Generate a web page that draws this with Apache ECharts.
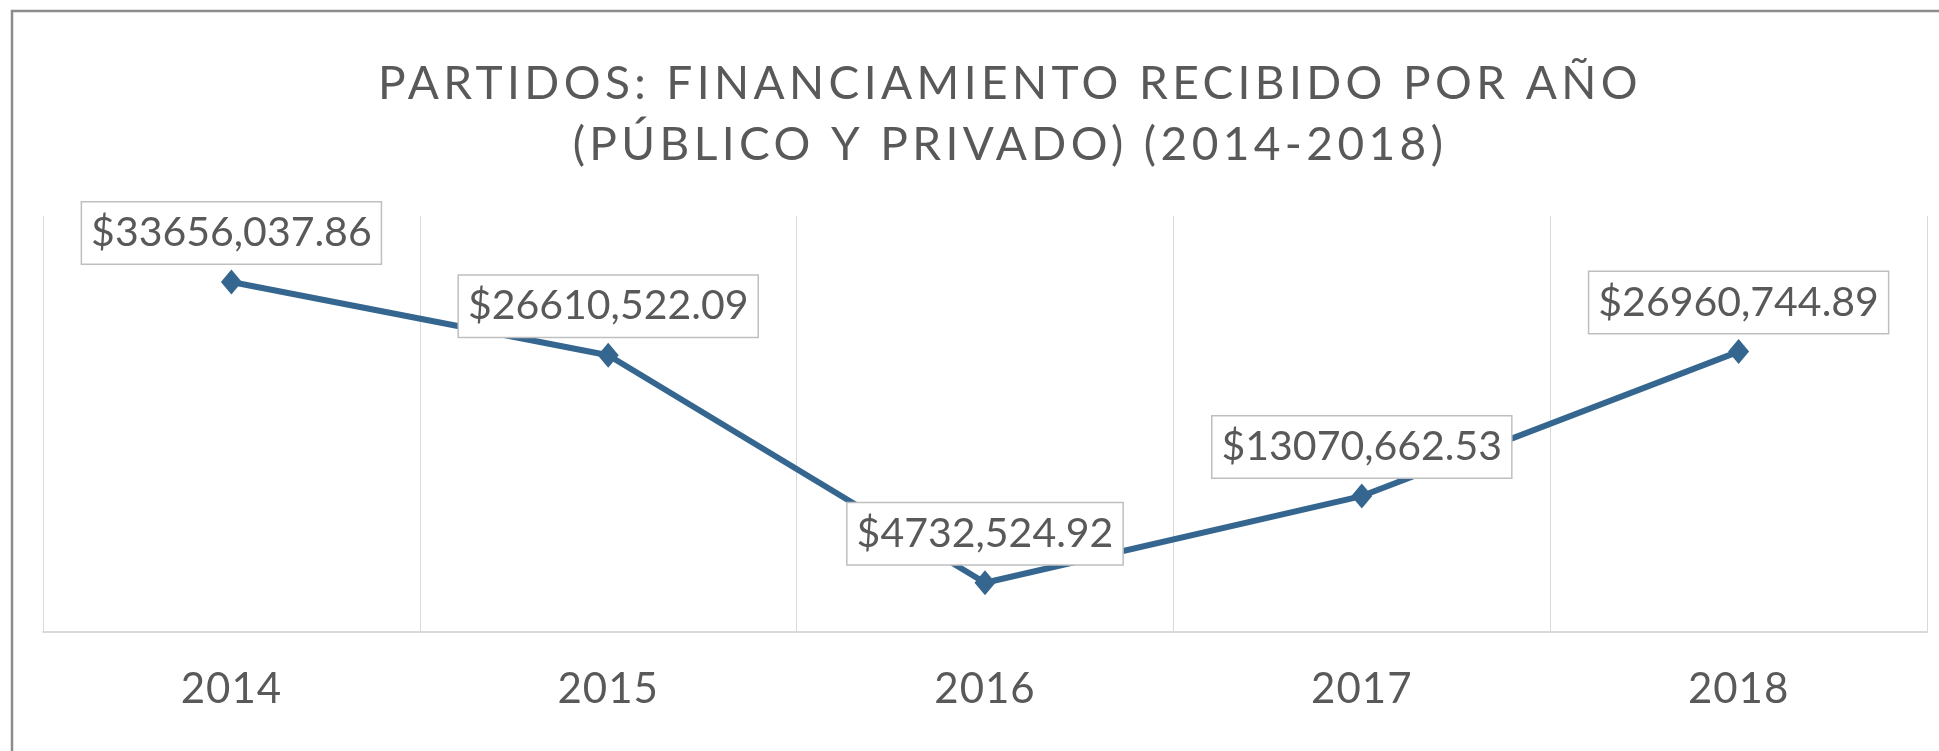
<!DOCTYPE html>
<html>
<head>
<meta charset="utf-8">
<script src="https://cdn.jsdelivr.net/npm/echarts@6/dist/echarts.min.js"></script>
<style>
html,body{margin:0;padding:0;background:#fff;}
#chart{width:1939px;height:751px;}
</style>
</head>
<body>
<div id="chart"></div>
<script>
var titleLines = ['PARTIDOS: FINANCIAMIENTO RECIBIDO POR AÑO', '(PÚBLICO Y PRIVADO) (2014-2018)'];
var categories = ['2014', '2015', '2016', '2017', '2018'];
var values = [33656037.86, 26610522.09, 4732524.92, 13070662.53, 26960744.89];
var yMin = 0;
var yMax = 40000000;

function fmt(v) {
  var s = v.toFixed(2);
  return '$' + s.slice(0, -6) + ',' + s.slice(-6);
}

// Letter spacing for the title and axis labels (Century Gothic-like spacing)
(function () {
  var proto = CanvasRenderingContext2D.prototype;
  if (!('letterSpacing' in proto)) return;
  var orig = proto.fillText;
  proto.fillText = function (t, x, y, w) {
    var f = this.font || '';
    var sp = null;
    if (f.indexOf('TitleSp') >= 0) sp = '4.4px';
    else if (f.indexOf('AxisSp') >= 0) sp = '1px';
    var old = this.letterSpacing;
    this.letterSpacing = sp || '0px';
    if (w === undefined) orig.call(this, t, x, y); else orig.call(this, t, x, y, w);
    this.letterSpacing = old;
  };
})();

var chart = echarts.init(document.getElementById('chart'), null, {renderer: 'canvas'});
chart.setOption({
  backgroundColor: '#ffffff',
  animation: false,
  title: {
    text: titleLines.join('\n'),
    left: 1010,
    textAlign: 'center',
    top: 54,
    padding: 0,
    textStyle: {
      fontFamily: 'Lato, TitleSp',
      fontSize: 46,
      fontWeight: 'normal',
      color: '#595959',
      lineHeight: 61,
      align: 'center'
    }
  },
  graphic: [{
    type: 'rect',
    shape: {x: 12, y: 11, width: 2100, height: 900},
    style: {fill: 'none', stroke: '#8c8c8c', lineWidth: 2.5},
    silent: true,
    z: 100
  }],
  grid: {left: 43, right: 12, top: 216, bottom: 119, containLabel: false},
  xAxis: {
    type: 'category',
    data: categories,
    boundaryGap: true,
    axisLine: {show: true, lineStyle: {color: '#d9d9d9', width: 2}},
    axisTick: {show: false},
    splitLine: {show: true, lineStyle: {color: '#d9d9d9', width: 1}},
    axisLabel: {
      fontFamily: 'Lato, AxisSp',
      fontSize: 42,
      color: '#595959',
      margin: 36
    }
  },
  yAxis: {
    type: 'value',
    min: yMin,
    max: yMax,
    show: false,
    splitLine: {show: false}
  },
  series: [{
    type: 'line',
    data: values,
    symbol: 'diamond',
    symbolSize: [21, 25],
    lineStyle: {color: '#35668f', width: 6},
    itemStyle: {color: '#35668f'},
    label: {
      show: true,
      position: 'top',
      distance: 6,
      formatter: function (p) { return fmt(p.value); },
      fontFamily: 'Lato',
      fontSize: 41,
      lineHeight: 41,
      color: '#595959',
      backgroundColor: '#ffffff',
      borderColor: '#bfbfbf',
      borderWidth: 1.5,
      padding: [10, 9, 10, 9]
    },
    z: 5
  }]
});
</script>
</body>
</html>
